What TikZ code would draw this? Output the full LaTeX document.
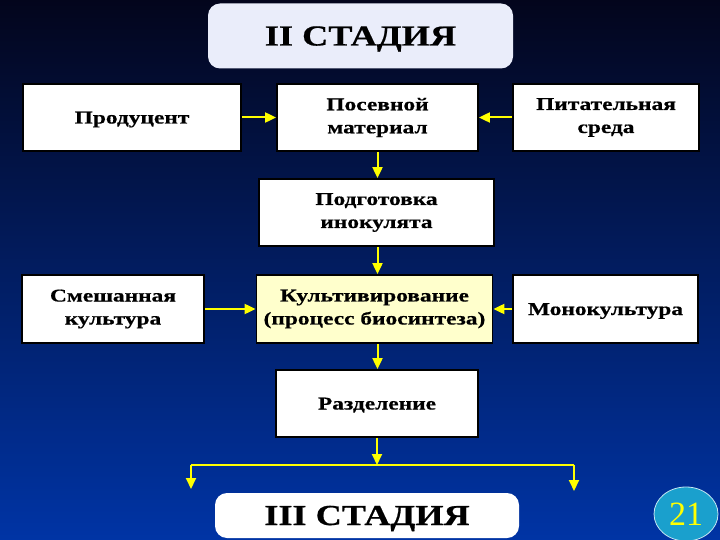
\documentclass[tikz,border=0pt]{standalone}
\usepackage{fontspec}
\setmainfont{Liberation Serif}
\newfontfamily\boxfont{Liberation Serif}[FakeStretch=1.3,FakeBold=0.6]
\newfontfamily\stagefont{Liberation Serif}[FakeStretch=1.25,FakeBold=0.6]
\usetikzlibrary{arrows.meta,shapes.geometric}
\definecolor{bgtop}{RGB}{3,5,28}
\definecolor{bgmid}{RGB}{8,36,125}
\definecolor{bgbot}{RGB}{0,52,165}
\definecolor{stagefill}{RGB}{234,237,250}
\definecolor{cultfill}{RGB}{255,255,204}
\definecolor{arrowyellow}{RGB}{255,255,0}
\definecolor{badgefill}{RGB}{26,160,205}
\begin{document}
\begin{tikzpicture}[x=1pt,y=-1pt,
  box/.style={draw=black,line width=1.8pt,fill=white,align=center,inner sep=0pt,
    font=\boxfont\bfseries\fontsize{18}{23}\selectfont},
  oneline/.style={text height=12pt,text depth=0pt},
  stage/.style={draw=none,fill=stagefill,rounded corners=12pt,inner sep=0pt,
    text height=19pt,text depth=0pt,
    font=\stagefont\bfseries\fontsize{29}{32}\selectfont},
  yarr/.style={draw=arrowyellow,line width=2pt,-{Triangle[length=11pt,width=10pt]}},
  yline/.style={draw=arrowyellow,line width=2pt}]
\useasboundingbox (0,0) rectangle (720,540);
\shade[top color=bgtop,middle color=bgmid,bottom color=bgbot] (0,0) rectangle (720,540);

\node[stage,minimum width=305pt,minimum height=65pt] (st2) at (360.5,36) {II СТАДИЯ};

\node[box,oneline,minimum width=218pt,minimum height=67pt] (prod) at (132,117.5) {Продуцент};
\node[box,minimum width=201pt,minimum height=67pt] (pos) at (377.5,117.5) {Посевной\\материал};
\node[box,minimum width=186pt,minimum height=67pt] (pit) at (606,117.5) {Питательная\\среда};

\node[box,minimum width=235pt,minimum height=67pt] (prep) at (376.5,212.5) {Подготовка\\инокулята};

\node[box,minimum width=182pt,minimum height=68pt] (mix) at (113,309) {Смешанная\\культура};
\node[box,fill=cultfill,minimum width=236pt,minimum height=68pt] (cult) at (374.5,309) {Культивирование\\(процесс биосинтеза)};
\node[box,oneline,minimum width=185pt,minimum height=68pt] (mono) at (605.5,309) {Монокультура};

\node[box,oneline,minimum width=202pt,minimum height=67pt] (sep) at (377,403.5) {Разделение};

\node[stage,fill=white,minimum width=304pt,minimum height=45pt] (st3) at (367,515.5) {III СТАДИЯ};

\node[ellipse,draw=white!75!badgefill,line width=0.8pt,fill=badgefill,minimum width=64pt,minimum height=54pt,inner sep=0pt,
  text=arrowyellow,font=\fontsize{34}{36}\selectfont] (badge) at (686,514) {21};

\draw[yarr] (prod.east) -- (pos.west);
\draw[yarr] (pit.west) -- (pos.east);
\draw[yarr] (pos.south) -- (pos.south |- prep.north);
\draw[yarr] (pos.south |- prep.south) -- (pos.south |- cult.north);
\draw[yarr] (mix.east) -- (cult.west);
\draw[yarr] (mono.west) -- (cult.east);
\draw[yarr] (pos.south |- cult.south) -- (pos.south |- sep.north);
\coordinate (split) at (377,465);
\coordinate (lft) at (191,465);
\coordinate (rgt) at (574,465);
\coordinate (lftend) at (191,489);
\coordinate (rgtend) at (574,491);
\draw[yarr] (sep.south) -- (split);
\draw[yline] (lft) -- (rgt);
\draw[yarr] (lft) -- (lftend);
\draw[yarr] (rgt) -- (rgtend);
\end{tikzpicture}
\end{document}
